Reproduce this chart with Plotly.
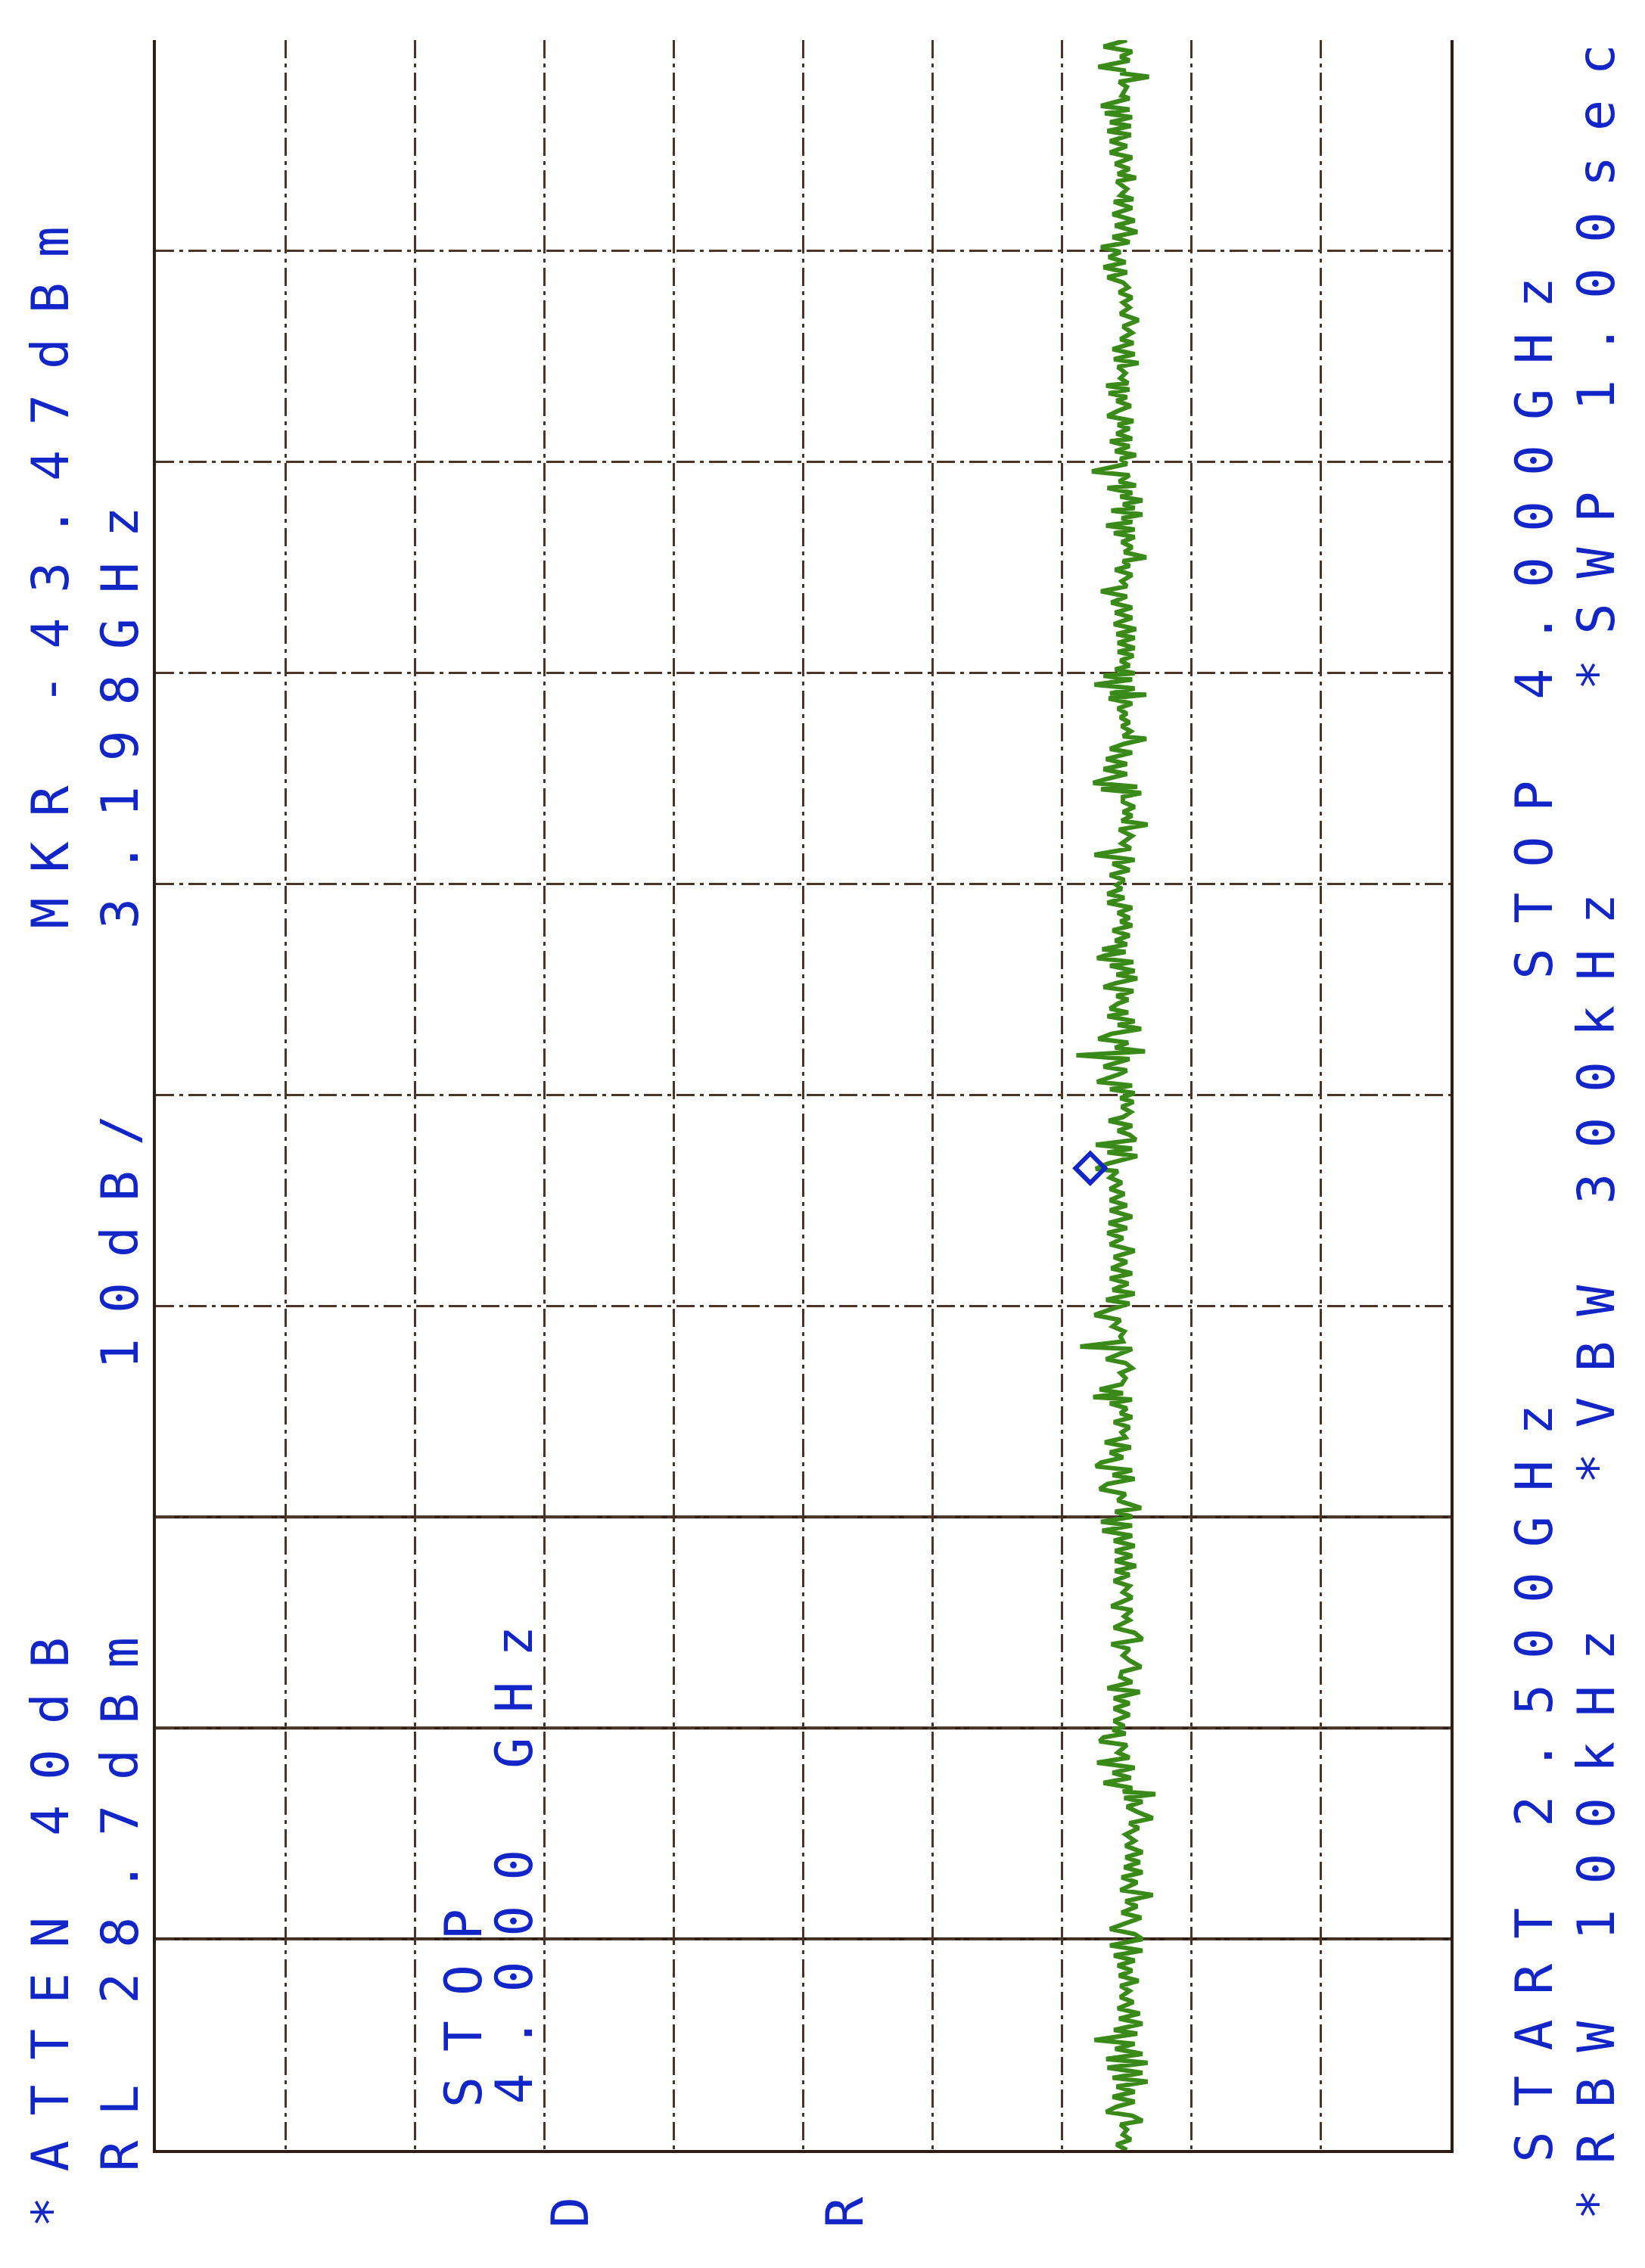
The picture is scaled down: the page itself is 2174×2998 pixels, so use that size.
import plotly.graph_objects as go

# ---------------- instrument settings (from the screen annotations) ----------------
ref_level_dbm = 28.7
db_per_div = 10
n_amp_div = 10
start_ghz = 2.5
stop_ghz = 4.0
n_freq_div = 10
solid_grid_ghz = [2.65, 2.80, 2.95]

marker_freq_ghz = [3.198]
marker_level_dbm = [-43.47]

# ---------------- trace (frequency GHz, level dBm) ----------------
seg1_ghz = [4.0000, 3.9954, 3.9918, 3.9882, 3.9855, 3.9810, 3.9783, 3.9765, 3.9739, 3.9703,
            3.9667, 3.9604, 3.9586, 3.9532, 3.9506, 3.9479, 3.9452, 3.9416, 3.9389, 3.9353,
            3.9326, 3.9281, 3.9246, 3.9201, 3.9165, 3.9120, 3.9084, 3.9048, 3.9021, 3.8995,
            3.8941, 3.8896, 3.8869, 3.8851, 3.8806, 3.8762, 3.8717, 3.8681, 3.8636, 3.8600,
            3.8564, 3.8528, 3.8493, 3.8457, 3.8421, 3.8385, 3.8349, 3.8313, 3.8277]
seg1_dbm = [-46.3, -44.5, -46.7, -45.8, -46.5, -44.1, -46.2, -45.8, -48.0, -45.7,
            -46.3, -45.9, -46.5, -44.3, -46.5, -44.6, -46.7, -45.0, -46.6, -44.8,
            -46.6, -45.0, -46.3, -45.0, -46.7, -45.4, -46.5, -45.6, -47.0, -45.5,
            -46.3, -45.8, -46.8, -45.3, -46.7, -45.2, -46.9, -45.4, -47.1, -45.2,
            -46.5, -44.3, -45.8, -44.9, -46.2, -44.5, -46.3, -44.8, -46.0]

seg2_ghz = [3.8242, 3.8206, 3.8170, 3.8134, 3.8098, 3.8054, 3.8009, 3.7964, 3.7919, 3.7874,
            3.7847, 3.7803, 3.7767, 3.7731, 3.7704, 3.7677, 3.7632, 3.7596, 3.7561, 3.7543,
            3.7516, 3.7489, 3.7462, 3.7435, 3.7399, 3.7363, 3.7327, 3.7292, 3.7265, 3.7238,
            3.7202, 3.7166, 3.7148, 3.7112, 3.7076, 3.7050, 3.7023, 3.6987, 3.6933, 3.6906,
            3.6861, 3.6834, 3.6816, 3.6781, 3.6754, 3.6727, 3.6700, 3.6673, 3.6655, 3.6628,
            3.6601, 3.6574, 3.6548, 3.6521, 3.6494, 3.6467]
seg2_dbm = [-46.4, -45.7, -46.7, -46.0, -46.5, -45.8, -47.2, -46.0, -46.7, -45.8,
            -46.8, -45.2, -46.9, -45.3, -47.2, -45.6, -46.2, -45.8, -46.4, -44.7,
            -46.5, -44.9, -46.3, -45.5, -46.6, -45.6, -44.8, -46.8, -45.6, -46.5,
            -45.5, -46.7, -45.0, -46.5, -45.4, -47.0, -45.8, -46.3, -43.6, -46.5,
            -45.7, -47.0, -44.8, -46.7, -45.8, -47.5, -46.0, -46.9, -45.1, -47.5,
            -45.9, -46.7, -44.7, -46.9, -45.3, -46.9]

seg3_ghz = [3.6431, 3.6395, 3.6359, 3.6323, 3.6296, 3.6261, 3.6234, 3.6198, 3.6153, 3.6117,
            3.6081, 3.6045, 3.6001, 3.5965, 3.5929, 3.5893, 3.5848, 3.5812, 3.5777, 3.5750,
            3.5714, 3.5678, 3.5651, 3.5624, 3.5588, 3.5553, 3.5526, 3.5499, 3.5481, 3.5454,
            3.5418, 3.5391, 3.5355, 3.5346, 3.5319, 3.5284, 3.5248, 3.5212, 3.5185, 3.5149,
            3.5122, 3.5086, 3.5050, 3.5033, 3.4997, 3.4961, 3.4934, 3.4889, 3.4853, 3.4817,
            3.4782, 3.4746, 3.4719, 3.4692, 3.4674, 3.4647, 3.4620]
seg3_dbm = [-45.9, -46.7, -46.1, -47.8, -46.0, -46.5, -45.4, -46.7, -45.9, -46.3,
            -44.3, -46.3, -45.1, -46.7, -45.4, -46.7, -45.3, -47.0, -45.5, -46.9,
            -45.6, -46.9, -45.6, -46.8, -45.8, -46.5, -45.4, -46.9, -44.5, -46.7,
            -43.8, -46.9, -45.0, -47.8, -44.9, -46.7, -45.6, -46.3, -45.8, -46.5,
            -45.9, -46.6, -46.0, -47.8, -46.1, -45.0, -46.7, -44.7, -46.3, -44.5,
            -46.3, -44.7, -43.7, -47.1, -44.3, -47.4, -46.0]

seg4_ghz = [3.4584, 3.4548, 3.4513, 3.4486, 3.4450, 3.4423, 3.4387, 3.4342, 3.4289, 3.4253,
            3.4208, 3.4172, 3.4145, 3.4100, 3.4064, 3.4029, 3.3993, 3.3966, 3.3930, 3.3903,
            3.3867, 3.3831, 3.3795, 3.3760, 3.3733, 3.3706, 3.3670, 3.3634, 3.3598, 3.3571,
            3.3536, 3.3518, 3.3491, 3.3473, 3.3446, 3.3419, 3.3383, 3.3356, 3.3329, 3.3294,
            3.3267, 3.3240, 3.3204, 3.3177, 3.3150, 3.3114, 3.3087, 3.3060, 3.3025, 3.2998,
            3.2971, 3.2935, 3.2899, 3.2872, 3.2836, 3.2810]
seg4_dbm = [-46.0, -46.9, -46.0, -46.7, -45.9, -47.9, -45.7, -46.7, -45.9, -46.6,
            -43.8, -46.9, -45.2, -46.5, -45.0, -46.1, -45.5, -45.9, -44.8, -46.1,
            -44.8, -46.7, -45.6, -46.5, -45.8, -46.7, -45.2, -46.5, -45.4, -46.3,
            -44.4, -46.2, -44.6, -44.0, -46.8, -45.0, -46.9, -45.5, -47.1, -45.4,
            -44.5, -46.8, -45.5, -46.4, -45.6, -45.0, -46.4, -44.8, -46.9, -45.6,
            -47.4, -45.1, -44.1, -46.4, -45.4, -47.7]

seg5_ghz = [3.2783, 3.2756, 3.2702, 3.2675, 3.2648, 3.2594, 3.2568, 3.2541, 3.2514, 3.2478,
            3.2451, 3.2415, 3.2379, 3.2343, 3.2317, 3.2281, 3.2245, 3.2218, 3.2182, 3.2146,
            3.2119, 3.2092, 3.2066, 3.2012, 3.1976, 3.1958, 3.1913, 3.1877, 3.1832, 3.1797,
            3.1752, 3.1716, 3.1680, 3.1635, 3.1590, 3.1554, 3.1519, 3.1483, 3.1438, 3.1393,
            3.1348, 3.1313, 3.1268, 3.1232, 3.1196, 3.1160, 3.1115, 3.1088, 3.1044, 3.1017,
            3.0981]
seg5_dbm = [-42.4, -46.5, -44.5, -46.3, -45.7, -44.0, -46.7, -45.0, -46.9, -45.8,
            -46.8, -45.9, -46.6, -46.0, -44.9, -46.7, -45.6, -46.5, -47.0, -43.9,
            -46.7, -44.8, -47.1, -44.8, -43.9, -45.6, -45.0, -45.9, -45.0, -46.1,
            -45.0, -46.3, -45.0, -46.7, -44.9, -46.3, -44.8, -46.0, -45.0, -46.9,
            -45.3, -46.3, -45.1, -46.7, -45.0, -46.4, -45.2, -46.9, -44.7, -46.5,
            -45.2]

seg6_ghz = [3.0936, 3.0900, 3.0855, 3.0819, 3.0784, 3.0748, 3.0712, 3.0694, 3.0658, 3.0622,
            3.0595, 3.0559, 3.0524, 3.0488, 3.0443, 3.0407, 3.0380, 3.0353, 3.0335, 3.0308,
            3.0273, 3.0237, 3.0210, 3.0174, 3.0138, 3.0102, 3.0066, 3.0031, 2.9995, 2.9959,
            2.9923, 2.9887, 2.9860, 2.9833, 2.9798, 2.9771, 2.9735, 2.9699, 2.9663, 2.9618,
            2.9564, 2.9538, 2.9502, 2.9466, 2.9439, 2.9403, 2.9367, 2.9331, 2.9295, 2.9259,
            2.9224, 2.9188, 2.9152]
seg6_dbm = [-43.8, -45.8, -45.2, -46.1, -45.8, -46.0, -42.7, -46.7, -45.6, -44.7,
            -46.2, -46.7, -45.8, -46.2, -45.9, -44.2, -46.0, -43.7, -46.7, -45.0,
            -46.3, -45.8, -46.7, -45.3, -46.5, -45.9, -46.2, -44.6, -46.6, -45.0,
            -46.0, -44.3, -43.9, -46.7, -45.2, -46.9, -44.8, -44.2, -46.2, -45.6,
            -47.4, -45.4, -46.7, -44.3, -46.7, -44.4, -46.7, -45.3, -46.9, -45.4,
            -46.7, -45.4, -47.0]

seg7_ghz = [2.9116, 2.9089, 2.9045, 2.9009, 2.8964, 2.8928, 2.8865, 2.8838, 2.8794, 2.8767,
            2.8713, 2.8677, 2.8632, 2.8596, 2.8561, 2.8516, 2.8480, 2.8435, 2.8399, 2.8363,
            2.8327, 2.8283, 2.8256, 2.8211, 2.8175, 2.8139, 2.8094, 2.8050, 2.8014, 2.7987,
            2.7960, 2.7933, 2.7906, 2.7879, 2.7825, 2.7790, 2.7754, 2.7718, 2.7682, 2.7646,
            2.7610, 2.7574, 2.7548, 2.7530, 2.7503, 2.7476, 2.7440, 2.7404, 2.7359, 2.7324,
            2.7288, 2.7243, 2.7198, 2.7162, 2.7117, 2.7081]
seg7_dbm = [-45.4, -46.5, -45.3, -46.5, -46.0, -46.7, -45.1, -46.7, -46.1, -46.5,
            -45.3, -46.9, -47.5, -45.1, -46.5, -46.0, -46.5, -47.4, -45.9, -45.8,
            -46.7, -44.8, -47.3, -45.3, -46.5, -45.3, -46.5, -45.3, -46.1, -45.2,
            -46.2, -44.5, -44.2, -46.3, -45.6, -46.5, -44.0, -46.9, -45.2, -46.6,
            -44.5, -46.7, -46.0, -48.5, -46.1, -47.5, -46.3, -47.1, -48.3, -46.5,
            -47.2, -46.2, -46.9, -46.2, -47.5, -46.2]

seg8_ghz = [2.7046, 2.7010, 2.6974, 2.6938, 2.6902, 2.6848, 2.6813, 2.6768, 2.6732, 2.6687,
            2.6651, 2.6615, 2.6571, 2.6535, 2.6499, 2.6454, 2.6418, 2.6382, 2.6347, 2.6311,
            2.6275, 2.6239, 2.6203, 2.6167, 2.6131, 2.6087, 2.6051, 2.6006, 2.5970, 2.5934,
            2.5898, 2.5853, 2.5827, 2.5782, 2.5755, 2.5719, 2.5683, 2.5647, 2.5620, 2.5585,
            2.5549, 2.5513, 2.5486, 2.5450, 2.5414, 2.5378, 2.5343, 2.5307, 2.5271, 2.5244,
            2.5208, 2.5181, 2.5145, 2.5109, 2.5074, 2.5038, 2.5000]
seg8_dbm = [-47.3, -46.1, -47.5, -45.9, -47.1, -45.8, -48.3, -46.2, -47.1, -45.9,
            -47.4, -46.3, -45.0, -46.9, -47.5, -45.0, -47.5, -45.3, -46.9, -45.6,
            -46.7, -45.7, -47.2, -45.8, -46.5, -45.8, -46.8, -45.6, -47.3, -45.7,
            -47.5, -45.3, -47.1, -43.8, -46.9, -45.4, -47.5, -44.7, -47.9, -44.8,
            -47.5, -45.2, -47.9, -45.5, -46.9, -45.2, -46.9, -45.5, -44.7, -46.7,
            -47.5, -45.8, -46.3, -46.0, -46.6, -45.5, -46.3]

# ---------------- screen annotation texts ----------------
txt_atten = "*ATTEN 40dB"
txt_rl = "RL 28.7dBm"
txt_mkr = "MKR -43.47dBm"
txt_mkr_f = "3.198GHz"
txt_scale = "10dB/"
txt_stop_a = "STOP"
txt_stop_b = "4.000 GHz"
txt_d = "D"
txt_r = "R"
txt_start = "START 2.500GHz"
txt_stop = "STOP 4.000GHz"
txt_rbw = "*RBW 100kHz"
txt_vbw = "*VBW 300kHz"
txt_swp = "*SWP 1.00sec"

# ---------------- assemble ----------------
segs_f = [seg1_ghz, seg2_ghz, seg3_ghz, seg4_ghz, seg5_ghz, seg6_ghz, seg7_ghz, seg8_ghz]
segs_l = [seg1_dbm, seg2_dbm, seg3_dbm, seg4_dbm, seg5_dbm, seg6_dbm, seg7_dbm, seg8_dbm]
trace_f, trace_l = [], []
for i, (a, b) in enumerate(zip(segs_f, segs_l)):
    assert len(a) == len(b), (i, len(a), len(b))
    trace_f += a
    trace_l += b

BLUE = "#1226c8"
GREEN = "#3a8a1a"
GRID = "#4a3426"
GRID_DARK = "#2e1d12"
FONT = "DejaVu Sans Mono"
FS = 68
LS = 33

bottom_dbm = ref_level_dbm - db_per_div * n_amp_div
fdiv = (stop_ghz - start_ghz) / n_freq_div

fig = go.Figure()
fig.add_trace(go.Scatter(
    x=trace_l, y=trace_f, mode="lines",
    line=dict(color=GREEN, width=6), hoverinfo="skip", showlegend=False))
fig.add_trace(go.Scatter(
    x=marker_level_dbm, y=marker_freq_ghz, mode="markers",
    marker=dict(symbol="diamond-open", size=30, color=BLUE, line=dict(color=BLUE, width=6)),
    showlegend=False, hoverinfo="skip"))

for g in solid_grid_ghz:
    fig.add_shape(type="line", xref="paper", x0=0, x1=1, yref="y", y0=g, y1=g,
                  line=dict(color=GRID_DARK, width=4), layer="below")

W, H = 2158, 2982
ML, MT = 198, 45
PW, PH = 1711, 2789
MR = W - ML - PW
MB = H - MT - PH


def ann(text, X, Y, anchor="bottom"):
    # X, Y in page pixels (centre of the rotated column, start of the text)
    px = (X - 206) / PW
    py = (2842 - Y) / PH
    fig.add_annotation(
        text=f'<span style="letter-spacing:{LS}px">{text}</span>',
        xref="paper", yref="paper", x=px, y=py,
        xanchor="center", yanchor=anchor, textangle=-90, showarrow=False,
        font=dict(family=FONT, size=FS, color=BLUE))


ann(txt_atten, 66, 2947)
ann(txt_mkr, 66, 1230)
ann(txt_rl, 158, 2873)
ann(txt_scale, 158, 1812)
ann(txt_mkr_f, 158, 1230)
ann(txt_stop_a, 612, 2788)
ann(txt_stop_b, 679, 2784)
ann(txt_d, 753, 2908, "middle")
ann(txt_r, 1116, 2908, "middle")
ann(txt_start, 2027, 2861)
ann(txt_stop, 2027, 1297)
ann(txt_rbw, 2109, 2937)
ann(txt_vbw, 2109, 1964)
ann(txt_swp, 2109, 915)

fig.update_xaxes(range=[ref_level_dbm, bottom_dbm], tick0=ref_level_dbm, dtick=db_per_div,
                 showticklabels=False, ticks="", showgrid=True, gridcolor=GRID, gridwidth=3,
                 griddash="24px,7px,5px,7px", zeroline=False,
                 showline=True, linecolor=GRID_DARK, linewidth=4, mirror=False)
fig.update_yaxes(range=[start_ghz, stop_ghz], tick0=start_ghz, dtick=fdiv,
                 showticklabels=False, ticks="", showgrid=True, gridcolor=GRID, gridwidth=3,
                 griddash="24px,7px,5px,7px", zeroline=False,
                 showline=True, linecolor=GRID_DARK, linewidth=4, mirror=True)

fig.update_layout(width=W, height=H, margin=dict(l=ML, r=MR, t=MT, b=MB),
                  paper_bgcolor="white", plot_bgcolor="white", showlegend=False)

fig.write_html("out.html")
